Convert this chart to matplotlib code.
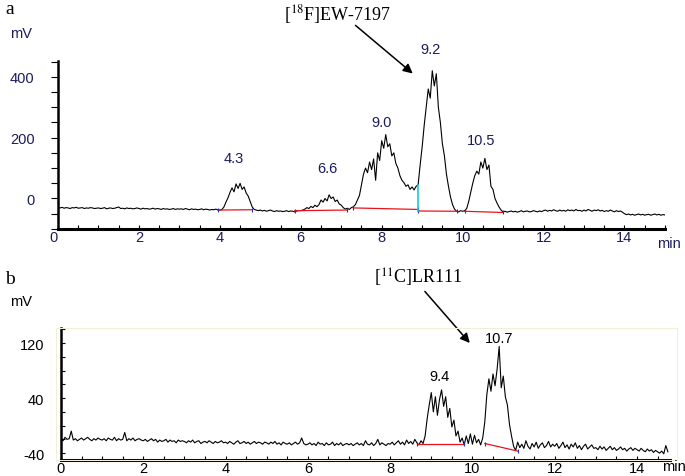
import numpy as np
import matplotlib
matplotlib.use("Agg")
import matplotlib.pyplot as plt
from matplotlib.ticker import MultipleLocator

plt.rcParams['font.family'] = ['Liberation Sans', 'DejaVu Sans']
plt.rcParams['axes.unicode_minus'] = False

STEP = 0.05  # min between samples

# panel a trace, mV, one row per minute (20 samples per row)
sig_a = [
    -30, -31, -29, -32, -30, -31, -33, -30, -31, -29, -32, -31, -30, -33, -31, -32, -30, -31, -33, -32,
    -31, -33, -32, -30, -34, -32, -31, -33, -32, -30, -28, -33, -32, -34, -31, -33, -32, -34, -33, -31,
    -33, -35, -32, -34, -33, -35, -34, -32, -35, -33, -34, -36, -33, -35, -34, -36, -35, -33, -36, -34,
    -35, -34, -36, -33, -35, -37, -34, -36, -35, -37, -36, -34, -37, -35, -36, -38, -36, -37, -35, -37,
    -38, -36, -28, -12, 2, 20, 35, 22, 48, 33, 50, 30, 38, 18, 8, -10, -28, -36, -38, -40,
    -38, -41, -39, -42, -40, -38, -41, -43, -40, -42, -41, -43, -42, -40, -43, -41, -42, -44, -41, -40,
    -40, -38, -35, -30, -33, -26, -30, -22, -27, -20, -5, -12, 0, -8, 12, 0, 5, -10, -5, -18,
    -22, -30, -35, -32, -36, -30, -27, -20, -5, 10, 45, 80, 100, 85, 120, 95, 130, 60, 150, 125,
    190, 165, 210, 170, 180, 140, 150, 115, 100, 75, 60, 52, 40, 45, 30, 38, 28, 40, 45, 110,
    170, 240, 300, 360, 330, 420, 370, 410, 300, 250, 180, 140, 80, 40, 5, -20, -35, -42, -44, -40,
    -42, -40, -33, -10, 20, 50, 75, 90, 80, 120, 100, 132, 95, 110, 40, 30, 0, -15, -28, -38,
    -44, -42, -45, -43, -41, -44, -42, -45, -43, -40, -44, -42, -41, -44, -43, -40, -42, -44, -41, -43,
    -40, -38, -42, -39, -41, -37, -40, -42, -38, -41, -39, -42, -37, -40, -38, -41, -36, -40, -39, -42,
    -38, -41, -36, -39, -42, -38, -40, -37, -41, -39, -43, -40, -42, -38, -41, -44, -40, -43, -41, -45,
    -50, -53, -51, -54, -52, -55, -53, -51, -54, -52, -55, -53, -52, -55, -53, -51, -54, -52, -55, -53,
    -54,
]

# panel b trace, mV
sig_b = [
    -18, -22, -17, -20, -19, -8, -21, -19, -22, -20, -18, -21, -19, -17, -20, -22, -19, -21, -18, -20,
    -21, -19, -22, -18, -20, -21, -17, -22, -19, -21, -20, -10, -22, -19, -21, -18, -22, -20, -19, -21,
    -22, -20, -23, -21, -19, -22, -20, -24, -21, -23, -22, -20, -24, -21, -23, -22, -25, -21, -23, -22,
    -23, -25, -22, -24, -21, -25, -23, -22, -26, -24, -23, -25, -22, -24, -26, -23, -25, -24, -22, -25,
    -24, -26, -23, -25, -27, -24, -22, -26, -25, -23, -26, -24, -27, -25, -23, -26, -24, -25, -27, -24,
    -25, -27, -24, -26, -23, -27, -25, -28, -24, -26, -27, -25, -28, -26, -24, -27, -25, -18, -26, -28,
    -27, -25, -28, -26, -29, -24, -27, -26, -29, -25, -28, -27, -24, -29, -26, -28, -25, -29, -27, -26,
    -28, -26, -29, -27, -25, -28, -26, -29, -22, -27, -28, -25, -29, -26, -20, -28, -25, -27, -29, -26,
    -27, -24, -28, -25, -22, -27, -24, -28, -21, -26, -23, -27, -20, -25, -28, -22, -26, -15, 10, 30,
    48, 20, 42, 15, 38, 52, 28, 42, 12, 25, -2, 8, -15, -8, -24, -18, -28, -15, -26, -12,
    -27, -14, -25, -20, -28, -18, 5, 45, 68, 50, 75, 58, 82, 115, 55, 72, 42, 30, 2, -15,
    -30, -36, -24, -32, -27, -33, -22, -30, -34, -26, -31, -24, -33, -28, -25, -32, -29, -23, -31, -27,
    -30, -26, -33, -29, -24, -32, -28, -34, -27, -31, -25, -33, -29, -35, -30, -27, -34, -31, -28, -33,
    -32, -35, -30, -34, -31, -36, -33, -30, -35, -32, -36, -34, -31, -35, -33, -37, -34, -32, -36, -33,
    -35, -37, -33, -36, -38, -34, -37, -35, -39, -36, -38, -40, -37, -41, -29, -38,
]

# integration baselines: (t0, y0, t1, y1)
base_a = [(3.95, -38, 4.8, -37), (5.85, -40, 7.15, -38), (7.3, -31, 8.9, -36),
          (8.9, -41, 9.85, -42), (10.05, -42, 11.0, -46)]
drop_a = (8.9, -41, 45)  # cyan drop line between 9.0 and 9.2 peaks
base_b = [(8.65, -27, 9.8, -27), (10.3, -26, 11.1, -37)]

labels_a = [("4.3", 4.35, 110), ("6.6", 6.65, 78), ("9.0", 8.0, 228), ("9.2", 9.2, 470), ("10.5", 10.45, 168)]
labels_b = [("9.4", 9.2, 62), ("10.7", 10.65, 117)]

navy = '#1c1c5c'
t_a = np.arange(len(sig_a)) * STEP
t_b = np.arange(len(sig_b)) * STEP

fig = plt.figure(figsize=(6.85, 4.77), dpi=100)
ax = fig.add_axes([0.0847, 0.518, 0.886, 0.352])
ax2 = fig.add_axes([0.089, 0.0335, 0.889, 0.277])

def style(a, col):
    for s in ['top', 'right']:
        a.spines[s].set_visible(False)
    a.spines['bottom'].set_linewidth(2.2)
    a.spines['left'].set_linewidth(1.8)
    a.xaxis.set_minor_locator(MultipleLocator(0.5))
    a.tick_params(axis='x', which='both', direction='in', length=3, width=0.8, labelsize=10.5,
                  labelcolor=col, pad=1)
    a.tick_params(axis='y', which='both', direction='out', length=5, width=0.8, labelsize=10.5,
                  labelcolor=col, pad=12)
    a.set_facecolor('none')

# ---- panel a
ax.plot(t_a, sig_a, color='black', lw=0.8)
for x0, y0, x1, y1 in base_a:
    ax.plot([x0, x1], [y0, y1], color='#e8141c', lw=0.9)
    ax.plot([x0, x1], [y0, y1], ls='none', marker='|', ms=3, color='#2a2ad0', mew=0.8)
ax.plot([drop_a[0], drop_a[0]], [drop_a[1], drop_a[2]], color='#19c8e0', lw=1.2)
ax.set_xlim(0, 15)
ax.set_ylim(-100, 452)
ax.set_xticks([0, 2, 4, 6, 8, 10, 12, 14])
ax.set_yticks([0, 200, 400])
ax.yaxis.set_minor_locator(MultipleLocator(50))
style(ax, navy)
# the "0" on the time axis sits left of the origin in the reference
ax.get_xticklabels()[0].set_horizontalalignment('right')
for txt, x, y in labels_a:
    ax.text(x, y, txt, color=navy, fontsize=10.5, ha='center', va='bottom', clip_on=False)
ax.annotate('', xy=(8.82, 405), xytext=(7.3, 575), annotation_clip=False,
            arrowprops=dict(arrowstyle='-|>', color='black', lw=1.1, mutation_scale=14))

# ---- panel b
ax2.plot(t_b, sig_b, color='black', lw=0.8)
for x0, y0, x1, y1 in base_b:
    ax2.plot([x0, x1], [y0, y1], color='#e8141c', lw=0.9)
    ax2.plot([x0, x1], [y0, y1], ls='none', marker='|', ms=3, color='#2a2ad0', mew=0.8)
ax2.set_xlim(0, 14.8)
ax2.set_ylim(-50, 142)
ax2.set_xticks([0, 2, 4, 6, 8, 10, 12, 14])
ax2.set_yticks([-40, 40, 120])
ax2.yaxis.set_minor_locator(MultipleLocator(20))
style(ax2, 'black')
ax2.tick_params(axis='y', which='both', direction='in', length=3)
for txt, x, y in labels_b:
    ax2.text(x, y, txt, color='black', fontsize=10.5, ha='center', va='bottom', clip_on=False)
ax2.annotate('', xy=(9.98, 117), xytext=(8.8, 198), annotation_clip=False,
             arrowprops=dict(arrowstyle='-|>', color='black', lw=1.1, mutation_scale=14))
# faint frame around panel b
fig.patches.append(plt.Rectangle((0.082, 0.0335), 0.906, 0.277, transform=fig.transFigure,
                                 fill=False, ec='#f2efd8', lw=0.8))

# figure texts
serif = ['Liberation Serif', 'DejaVu Serif']
fig.text(5 / 685, 1 - 10 / 477, 'a', family=serif, fontsize=14, va='center')
fig.text(5 / 685, 1 - 279 / 477, 'b', family=serif, fontsize=14, va='center')
fig.text(10 / 685, 1 - 34 / 477, 'mV', color=navy, fontsize=10.5, va='center')
fig.text(10 / 685, 1 - 302 / 477, 'mV', color='black', fontsize=10.5, va='center')
fig.text(657 / 685, 1 - 244 / 477, 'min', color=navy, fontsize=10.5, va='center')
fig.text(662 / 685, 1 - 467 / 477, 'min', color='black', fontsize=10.5, va='center')
fig.text(338 / 685, 1 - 15 / 477, r'[$^{18}$F]EW-7197', family=serif, fontsize=13,
         ha='center', va='center', math_fontfamily='stix')
fig.text(418 / 685, 1 - 278 / 477, r'[$^{11}$C]LR111', family=serif, fontsize=13,
         ha='center', va='center', math_fontfamily='stix')

fig.savefig('out.png', dpi=100)
